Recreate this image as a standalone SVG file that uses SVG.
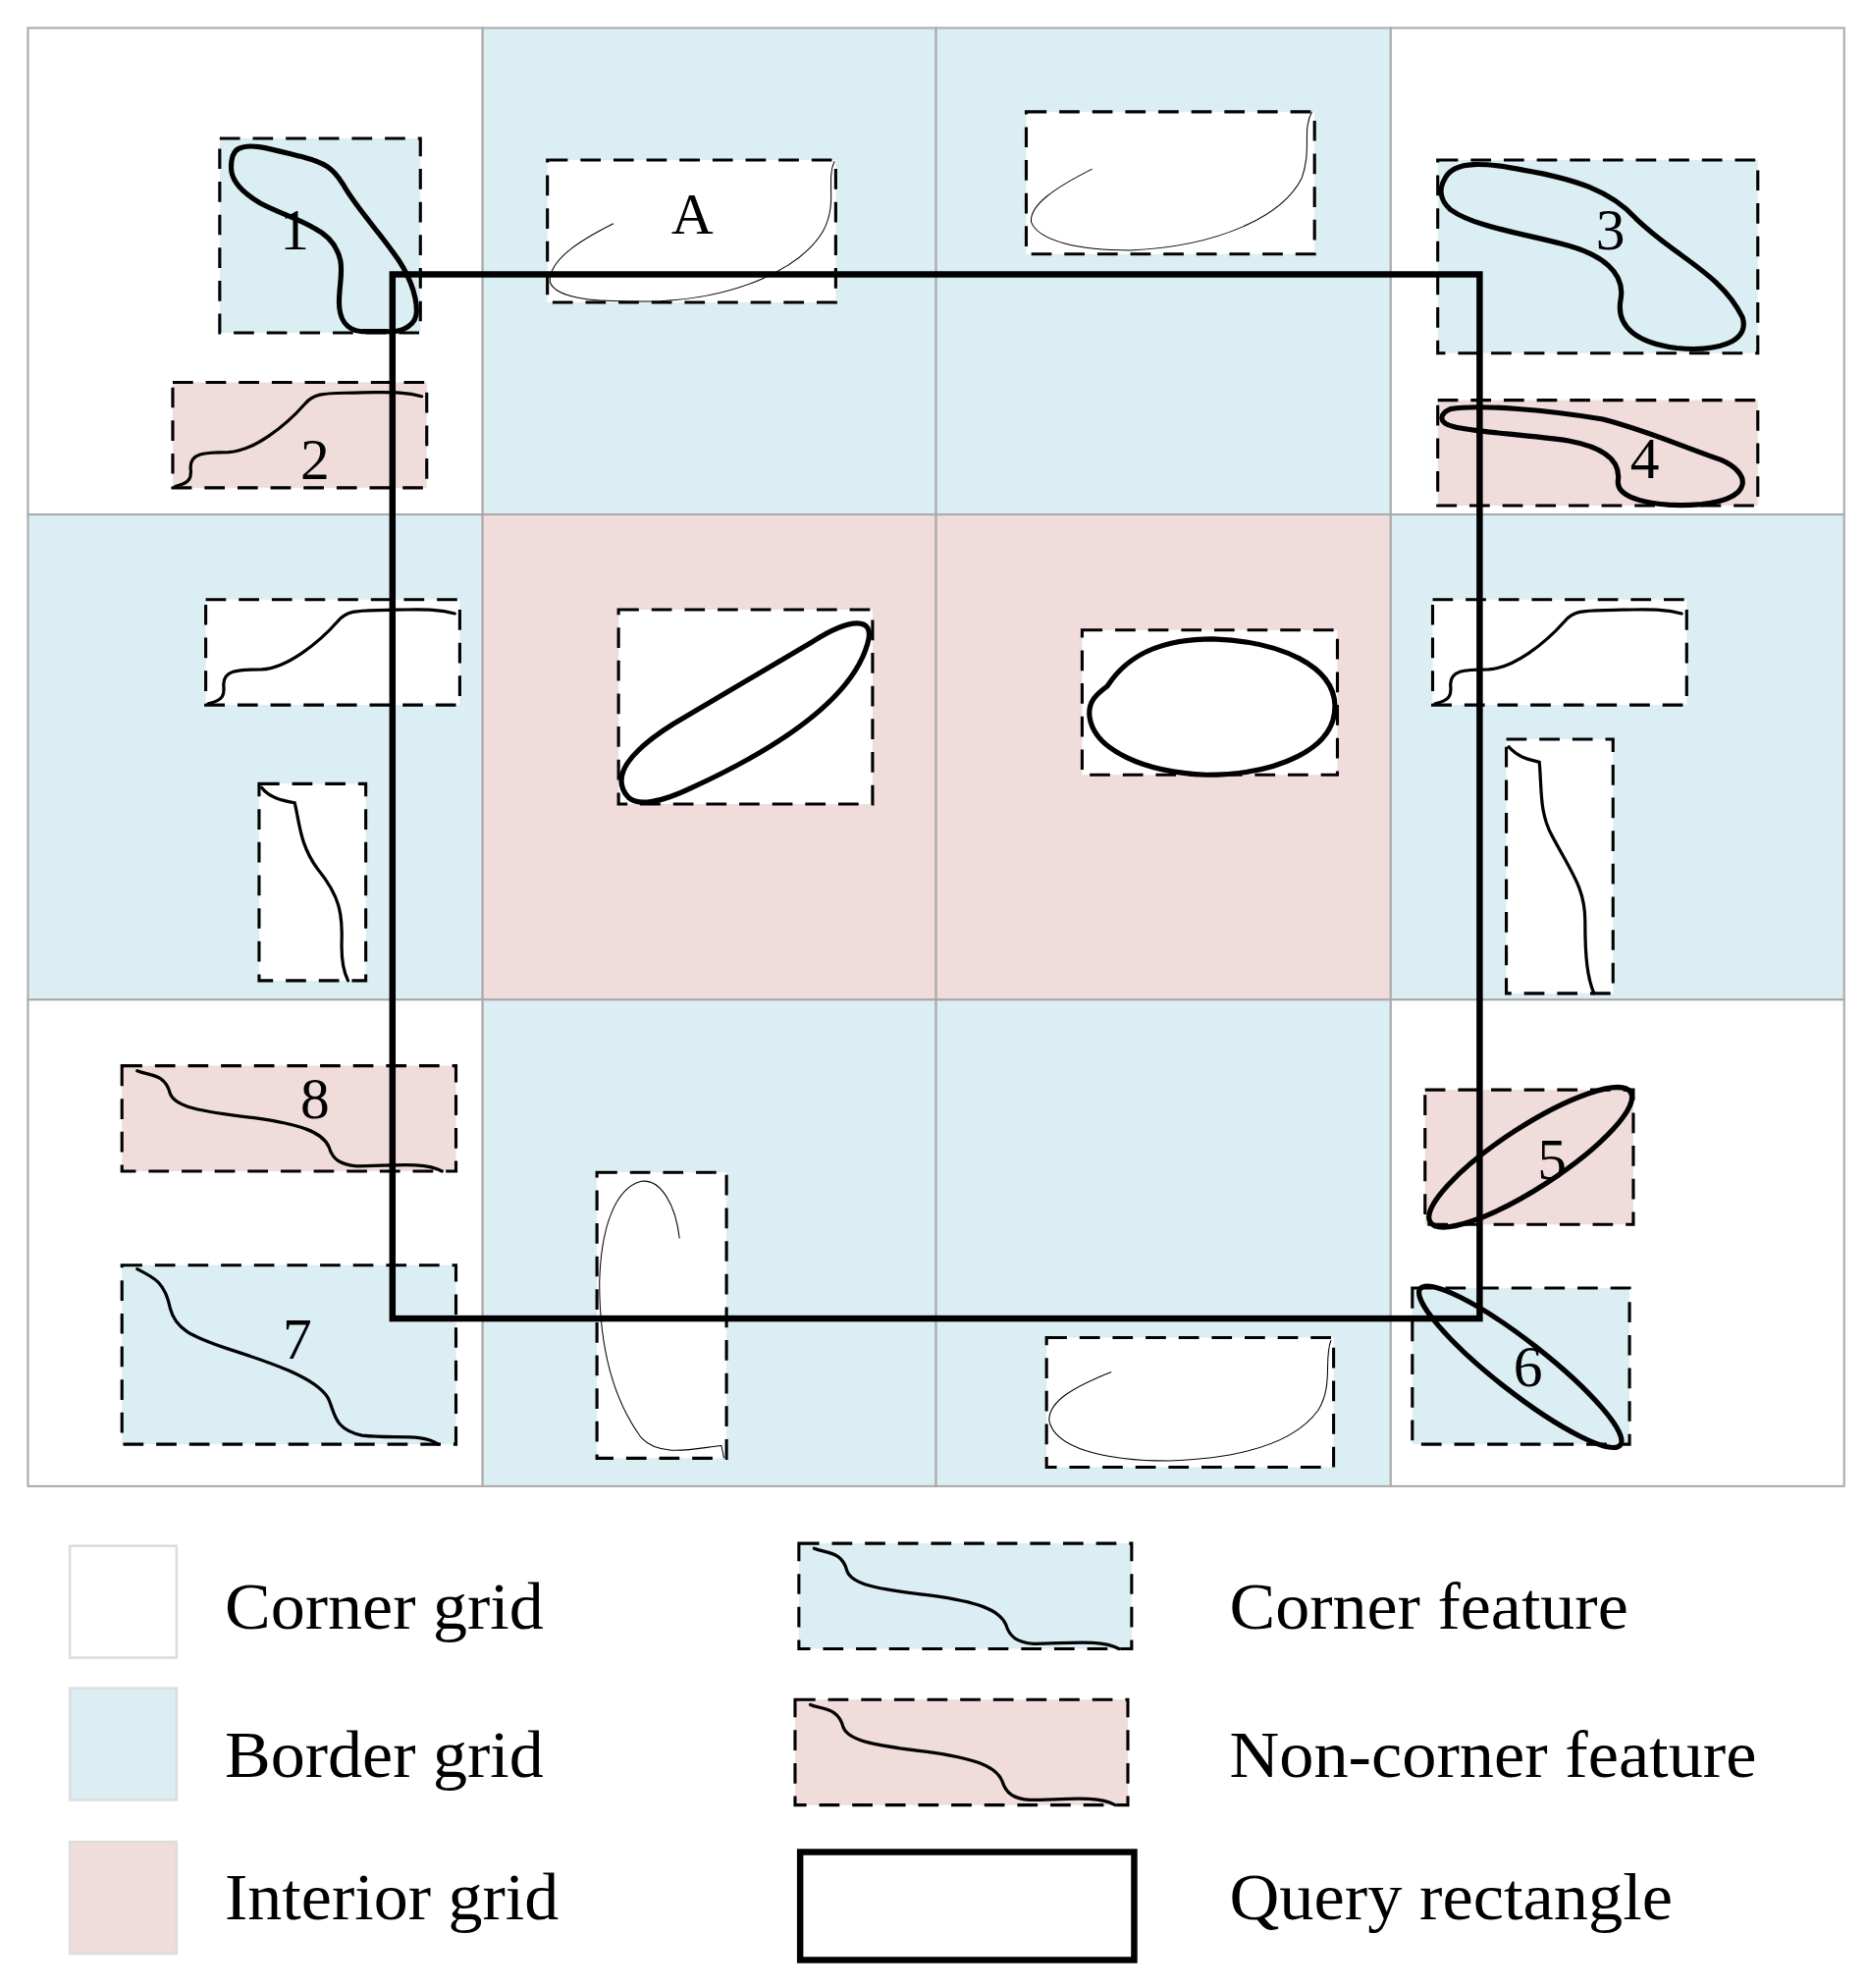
<svg xmlns="http://www.w3.org/2000/svg" width="1902" height="2025" viewBox="0 0 1902 2025">
<style>
.cw{fill:#fff;stroke:#aaa;stroke-width:1.6}
.cb{fill:#dbeef4;stroke:#aaa;stroke-width:1.6}
.ci{fill:#f0dcdb;stroke:#aaa;stroke-width:1.6}
.fr{stroke:#000;stroke-width:2.4;stroke-dasharray:16,10}
.w{fill:#fff}.b{fill:#dbeef4}.p{fill:#f0dcdb}
.thick{fill:none;stroke:#000;stroke-width:4;stroke-linejoin:round;stroke-linecap:round}
.mid{fill:none;stroke:#000;stroke-width:2.5;stroke-linecap:round}
.thin{fill:none;stroke:#000;stroke-width:0.8}
.lbl{font-family:"Liberation Serif",serif;font-size:46px;text-anchor:middle}
.leg{font-family:"Liberation Serif",serif;font-size:52px}
</style>
<defs>
<path id="wave" d="M12,4 C22,8 34,6 38,22 C42,32 60,36 104,41 C140,46 158,52 163,64 C166,74 172,78 185,79 C210,79 238,75 252,83" class="mid"/>
</defs>
<g transform="scale(1.2939)">
<g id="grid">
<rect class="cw" x="22" y="22" width="358" height="383"/>
<rect class="cb" x="380" y="22" width="357" height="383"/>
<rect class="cb" x="737" y="22" width="358" height="383"/>
<rect class="cw" x="1095" y="22" width="357" height="383"/>
<rect class="cb" x="22" y="405" width="358" height="382"/>
<rect class="ci" x="380" y="405" width="357" height="382"/>
<rect class="ci" x="737" y="405" width="358" height="382"/>
<rect class="cb" x="1095" y="405" width="357" height="382"/>
<rect class="cw" x="22" y="787" width="358" height="383"/>
<rect class="cb" x="380" y="787" width="357" height="383"/>
<rect class="cb" x="737" y="787" width="358" height="383"/>
<rect class="cw" x="1095" y="787" width="357" height="383"/>
</g>
<g id="f1"><rect class="b fr" x="173" y="109" width="158" height="153"/>
<path class="thick" d="M188,117 C198,112 215,118 240,124 C255,128 262,132 270,145 C280,163 298,182 309,198 C322,215 328,232 328,245 C328,255 318,262 305,261 L285,261 C272,260 267,250 267,238 C267,225 270,215 268,205 C265,192 258,185 248,180 C235,172 220,168 205,160 C188,150 182,140 182,132 C182,124 184,119 188,117 Z"/>
<text class="lbl" x="232" y="196">1</text></g>
<g id="fA"><rect class="w fr" x="431" y="126" width="227" height="112"/>
<path class="thin" d="M483,176 C455,190 432,205 433,222 C438,236 470,238 520,237 C580,234 630,212 648,182 C660,160 650,142 657,127"/>
<text class="lbl" x="545" y="184">A</text></g>
<g id="fTR"><rect class="w fr" x="808" y="88" width="227" height="112"/>
<path class="thin" d="M860,133 C830,148 810,162 812,175 C818,190 850,197 890,197 C960,194 1010,170 1025,140 C1033,118 1025,102 1033,88"/>
</g>
<g id="f3"><rect class="b fr" x="1132" y="126" width="252" height="152"/>
<path class="thick" d="M1138,140 C1145,126 1170,128 1200,134 C1240,141 1268,150 1288,172 C1320,203 1355,215 1372,250 C1378,270 1350,277 1320,274 C1290,270 1272,258 1276,236 C1280,215 1262,200 1230,192 C1195,183 1160,178 1142,165 C1133,157 1133,148 1138,140 Z"/>
<text class="lbl" x="1268" y="196">3</text></g>
<g id="f2"><rect class="p fr" x="136" y="301" width="200" height="83"/>
<path class="mid" d="M138,383 C150,380 151,376 150,368 C150,357 160,356 180,356 C200,355 225,335 240,318 C248,308 258,310 285,309 C305,309 318,308 332,312"/>
<text class="lbl" x="248" y="377">2</text></g>
<g id="f4"><rect class="p fr" x="1132" y="315" width="252" height="83"/>
<path class="thick" d="M1142,322 C1165,318 1220,323 1262,330 C1300,340 1320,350 1355,362 C1378,372 1382,392 1340,397 C1300,400 1272,392 1274,378 C1276,362 1262,352 1235,347 C1200,342 1160,340 1145,336 C1132,333 1133,326 1142,322 Z"/>
<text class="lbl" x="1295" y="376">4</text></g>
<g id="fL1"><rect class="w fr" x="162" y="472" width="200" height="83"/>
<path class="mid" d="M164,554 C176,551 177,547 176,539 C176,528 186,527 206,527 C226,526 251,506 266,489 C274,479 284,481 311,480 C331,480 344,479 358,483"/>
</g>
<g id="fL2"><rect class="w fr" x="204" y="617" width="84" height="155"/>
<path class="mid" d="M206,620 C212,628 222,630 232,632 C236,648 236,665 250,684 C268,706 270,720 269,745 C269,760 272,768 274,772"/>
</g>
<g id="fI1"><rect class="w fr" x="487" y="480" width="200" height="153"/>
<path class="thick" d="M495,628 C480,612 495,592 530,570 L640,505 C668,487 690,484 683,507 C670,552 610,590 545,620 C518,633 502,634 495,628 Z"/>
</g>
<g id="fI2"><rect class="w fr" x="852" y="496" width="201" height="114"/>
<path class="thick" d="M872,540 C890,512 920,503 955,503 C1010,505 1050,525 1051,555 C1052,590 1005,610 950,610 C900,608 862,590 858,565 C856,552 864,546 872,540 Z"/>
</g>
<g id="fR1"><rect class="w fr" x="1128" y="472" width="200" height="83"/>
<path class="mid" d="M1130,554 C1142,551 1143,547 1142,539 C1142,528 1152,527 1172,527 C1192,526 1217,506 1232,489 C1240,479 1250,481 1277,480 C1297,480 1310,479 1324,483"/>
</g>
<g id="fR2"><rect class="w fr" x="1186" y="582" width="84" height="200"/>
<path class="mid" d="M1188,588 C1196,597 1205,598 1212,600 C1214,622 1212,640 1222,658 C1238,688 1248,700 1248,725 C1248,755 1250,770 1255,782"/>
</g>
<g id="f8"><rect class="p fr" x="96" y="839" width="263" height="83"/>
<use href="#wave" x="96" y="839"/>
<text class="lbl" x="248" y="880">8</text></g>
<g id="f7"><rect class="b fr" x="96" y="996" width="263" height="141"/>
<path class="mid" d="M108,999 C122,1006 130,1010 134,1030 C138,1046 150,1052 180,1062 C220,1075 248,1085 258,1100 C264,1112 262,1125 285,1130 C310,1133 332,1128 345,1137"/>
<text class="lbl" x="234" y="1070">7</text></g>
<g id="fB1"><rect class="w fr" x="470" y="923" width="102" height="225"/>
<path class="thin" d="M535,975 C532,948 520,928 505,930 C485,935 473,965 472,1010 C472,1065 485,1105 505,1132 C520,1148 548,1140 568,1138 L570,1148"/>
</g>
<g id="fB2"><rect class="w fr" x="824" y="1053" width="226" height="102"/>
<path class="thin" d="M875,1080 C845,1092 826,1103 826,1118 C830,1140 870,1150 920,1150 C980,1148 1020,1135 1038,1110 C1050,1090 1042,1070 1048,1055"/>
</g>
<g id="f5"><rect class="p fr" x="1122" y="858" width="164" height="106"/>
<ellipse class="thick" cx="1205" cy="911" rx="94" ry="24" transform="rotate(-33 1205 911)"/>
<text class="lbl" x="1222" y="928">5</text></g>
<g id="f6"><rect class="b fr" x="1112" y="1014" width="171" height="123"/>
<ellipse class="thick" cx="1197" cy="1076" rx="100" ry="20" transform="rotate(38 1197 1076)"/>
<text class="lbl" x="1203" y="1091">6</text></g>
<g id="query"><rect x="309" y="216" width="856" height="822" fill="none" stroke="#000" stroke-width="5"/></g>
<g id="legend">
<rect x="55" y="1217" width="84" height="88" fill="#fff" stroke="#ddd" stroke-width="2"/>
<rect x="55" y="1329" width="84" height="88" fill="#dbeef4" stroke="#ddd" stroke-width="2"/>
<rect x="55" y="1450" width="84" height="88" fill="#f0dcdb" stroke="#ddd" stroke-width="2"/>
<text class="leg" x="177" y="1282" textLength="251" lengthAdjust="spacingAndGlyphs">Corner grid</text>
<text class="leg" x="177" y="1399" textLength="251" lengthAdjust="spacingAndGlyphs">Border grid</text>
<text class="leg" x="177" y="1511" textLength="263" lengthAdjust="spacingAndGlyphs">Interior grid</text>
<rect class="b fr" x="629" y="1215" width="262" height="83"/>
<use href="#wave" x="629" y="1215"/>
<rect class="p fr" x="626" y="1338" width="262" height="83"/>
<use href="#wave" x="626" y="1338"/>
<rect x="630" y="1458" width="263" height="85" fill="#fff" stroke="#000" stroke-width="5"/>
<text class="leg" x="968" y="1282" textLength="314" lengthAdjust="spacingAndGlyphs">Corner feature</text>
<text class="leg" x="968" y="1399" textLength="415" lengthAdjust="spacingAndGlyphs">Non-corner feature</text>
<text class="leg" x="968" y="1511" textLength="349" lengthAdjust="spacingAndGlyphs">Query rectangle</text>
</g>
</g>
</svg>
